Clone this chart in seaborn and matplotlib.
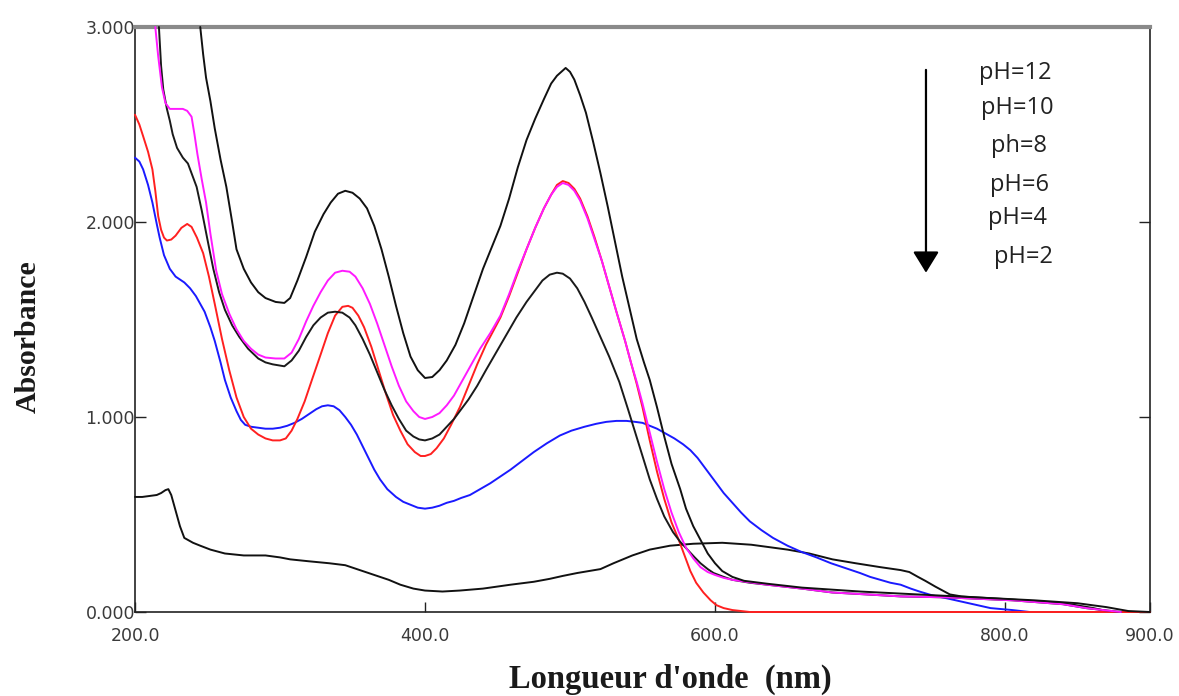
import numpy as np
import pandas as pd
import matplotlib
matplotlib.use("Agg")
import matplotlib.pyplot as plt
import seaborn as sns

# UV-Vis absorption spectra recorded at several pH values (wavelength in nm, absorbance)
wl_ph12 = [245, 247, 249, 252, 255, 259, 263, 267, 270, 275, 280, 285, 290, 297, 303, 307, 312,
           318, 324, 330, 335, 340, 345, 350, 355, 360, 365, 370, 375, 380, 385, 390, 395, 400,
           405, 410, 415, 421, 427, 433, 440, 446, 452, 458, 464, 470, 476, 482, 487, 491, 494,
           497, 500, 503, 507, 511, 516, 521, 526, 531, 536, 541, 546, 551, 555, 560, 565, 570,
           576, 580, 585, 590, 595, 600, 605, 612, 620, 636, 660, 700, 740, 780, 820, 850, 870,
           885, 900]
abs_ph12 = [3.00, 2.86, 2.74, 2.62, 2.48, 2.32, 2.18, 2.00, 1.86, 1.76, 1.69, 1.64, 1.61, 1.59,
            1.585, 1.61, 1.70, 1.82, 1.95, 2.04, 2.10, 2.145, 2.16, 2.15, 2.12, 2.07, 1.98, 1.86,
            1.72, 1.57, 1.43, 1.31, 1.24, 1.20, 1.205, 1.24, 1.29, 1.37, 1.48, 1.61, 1.76, 1.87,
            1.98, 2.12, 2.28, 2.42, 2.53, 2.63, 2.71, 2.75, 2.77, 2.79, 2.77, 2.73, 2.65, 2.56,
            2.41, 2.25, 2.08, 1.90, 1.72, 1.56, 1.40, 1.28, 1.19, 1.05, 0.90, 0.76, 0.63, 0.53,
            0.44, 0.37, 0.30, 0.25, 0.21, 0.18, 0.16, 0.145, 0.125, 0.105, 0.09, 0.075, 0.06,
            0.045, 0.025, 0.005, 0.0]

wl_ph10 = [214, 216, 218.6, 221, 224, 229, 233, 236, 239, 241, 243, 246, 249, 252, 256, 260, 265,
           270, 275, 280, 285, 290, 297, 303, 308, 313, 318, 323, 328, 333, 338, 343, 348, 352,
           357, 362, 367, 372, 377, 382, 387, 392, 396, 400, 405, 410, 415, 420, 426, 432, 438,
           445, 452, 458, 464, 470, 476, 482, 487, 491, 495, 499, 503, 507, 512, 517, 522, 527,
           532, 538, 542, 546, 550, 555, 560, 565, 570, 575, 580, 585, 590, 595, 600, 606, 612,
           624, 636, 660, 681, 705, 728, 760, 805, 840, 856, 870, 880]
abs_ph10 = [3.00, 2.85, 2.69, 2.61, 2.58, 2.58, 2.58, 2.57, 2.54, 2.45, 2.35, 2.22, 2.10, 1.94,
            1.75, 1.63, 1.53, 1.45, 1.39, 1.35, 1.32, 1.305, 1.30, 1.30, 1.33, 1.40, 1.49, 1.57,
            1.64, 1.70, 1.74, 1.75, 1.745, 1.72, 1.66, 1.58, 1.48, 1.37, 1.26, 1.16, 1.08, 1.03,
            1.00, 0.99, 1.00, 1.02, 1.06, 1.11, 1.19, 1.27, 1.35, 1.43, 1.52, 1.63, 1.75, 1.86,
            1.97, 2.07, 2.14, 2.18, 2.20, 2.19, 2.16, 2.11, 2.02, 1.91, 1.80, 1.67, 1.54, 1.39,
            1.28, 1.18, 1.07, 0.92, 0.77, 0.63, 0.51, 0.41, 0.33, 0.275, 0.23, 0.205, 0.19,
            0.175, 0.165, 0.152, 0.14, 0.12, 0.10, 0.09, 0.08, 0.075, 0.06, 0.04, 0.02, 0.008,
            0.0]

wl_ph8 = [216.5, 218, 219.5, 222, 224, 226, 229, 233, 236.5, 239, 242.5, 246, 249.7, 254, 258,
          262, 267, 272, 278, 285, 290, 295, 303, 308, 313, 318, 323, 328, 333, 338, 343, 348,
          352, 357, 362, 367, 372, 377, 382, 387, 392, 396, 400, 405, 410, 415, 420, 425, 430,
          436, 442, 449, 456, 463, 470, 476, 481, 486, 491, 495, 500, 505, 510, 515, 521, 527,
          534, 540, 545, 550, 555, 560, 565, 571, 576, 581, 586, 590, 595, 599, 606, 612, 624,
          636, 660, 681, 705, 728, 760, 805, 840, 856, 870, 880]
abs_ph8 = [3.00, 2.80, 2.68, 2.58, 2.52, 2.45, 2.38, 2.33, 2.30, 2.25, 2.18, 2.06, 1.92, 1.76,
           1.64, 1.55, 1.47, 1.41, 1.35, 1.30, 1.28, 1.27, 1.26, 1.29, 1.34, 1.41, 1.47, 1.51,
           1.535, 1.54, 1.535, 1.51, 1.47, 1.40, 1.32, 1.23, 1.14, 1.06, 0.99, 0.93, 0.90, 0.885,
           0.88, 0.89, 0.91, 0.95, 0.99, 1.04, 1.09, 1.16, 1.24, 1.33, 1.42, 1.51, 1.59, 1.65,
           1.70, 1.73, 1.74, 1.735, 1.71, 1.66, 1.59, 1.51, 1.41, 1.31, 1.18, 1.04, 0.92, 0.80,
           0.68, 0.58, 0.49, 0.41, 0.36, 0.32, 0.28, 0.25, 0.22, 0.20, 0.18, 0.165, 0.15, 0.14,
           0.12, 0.10, 0.09, 0.08, 0.075, 0.06, 0.04, 0.02, 0.008, 0.0]

wl_ph6 = [200, 203, 205.6, 209, 212, 214, 216, 218, 220, 222, 225, 228, 232, 236, 239, 242.7, 247,
          251, 255, 260, 265, 270, 275, 280, 285, 290, 295, 300, 304, 308, 312, 317, 322, 328,
          333, 338, 343, 347, 350, 354, 358, 363, 368, 373, 378, 383, 388, 393, 397, 400, 404,
          408, 413, 418, 424, 430, 436, 442, 447, 452, 458, 464, 470, 476, 482, 487, 491, 495,
          499, 503, 507, 512, 517, 522, 527, 532, 538, 542, 546, 550, 555, 560, 565, 570, 575,
          579, 583, 587, 592, 597, 601, 606, 612, 624, 900]
abs_ph6 = [2.55, 2.50, 2.44, 2.36, 2.27, 2.16, 2.03, 1.96, 1.92, 1.905, 1.91, 1.93, 1.97, 1.99,
           1.975, 1.92, 1.84, 1.72, 1.58, 1.40, 1.24, 1.10, 1.00, 0.94, 0.91, 0.89, 0.88, 0.88,
           0.89, 0.93, 0.99, 1.08, 1.19, 1.32, 1.43, 1.52, 1.565, 1.57, 1.56, 1.52, 1.46, 1.36,
           1.24, 1.12, 1.01, 0.93, 0.86, 0.82, 0.80, 0.80, 0.81, 0.84, 0.89, 0.96, 1.05, 1.16,
           1.27, 1.37, 1.44, 1.51, 1.62, 1.74, 1.86, 1.97, 2.07, 2.14, 2.19, 2.21, 2.20, 2.17,
           2.12, 2.03, 1.92, 1.80, 1.67, 1.54, 1.39, 1.28, 1.17, 1.05, 0.88, 0.72, 0.58, 0.46,
           0.37, 0.29, 0.21, 0.15, 0.10, 0.06, 0.035, 0.02, 0.01, 0.0, 0.0]

wl_ph4 = [200, 203, 205.6, 209, 212, 215, 217, 220, 224, 228, 234, 238, 242, 245, 248, 252, 255,
          259, 262, 266, 270, 273, 276, 280, 285, 290, 295, 300, 305, 310, 315, 320, 325, 329,
          333, 337, 341, 345, 349, 353, 357, 361, 365, 369, 374, 380, 385, 390, 395, 400, 405,
          410, 415, 420, 425, 431, 438, 445, 452, 459, 467, 475, 484, 493, 501, 510, 518, 525,
          532, 539, 545, 550, 555, 560, 566, 572, 578, 583, 588, 592, 597, 601, 606, 612, 618,
          624, 632, 640, 650, 659, 670, 680, 690, 700, 707, 714, 721, 728, 735, 741, 750, 760,
          775, 790, 805, 817]
abs_ph4 = [2.33, 2.31, 2.27, 2.19, 2.10, 1.99, 1.92, 1.83, 1.76, 1.72, 1.69, 1.66, 1.62, 1.58,
           1.54, 1.46, 1.39, 1.28, 1.19, 1.10, 1.03, 0.985, 0.96, 0.95, 0.945, 0.94, 0.94, 0.945,
           0.955, 0.97, 0.99, 1.015, 1.04, 1.055, 1.06, 1.055, 1.035, 1.00, 0.96, 0.91, 0.85,
           0.79, 0.73, 0.68, 0.63, 0.59, 0.565, 0.55, 0.535, 0.53, 0.535, 0.545, 0.56, 0.57,
           0.585, 0.60, 0.63, 0.66, 0.695, 0.73, 0.775, 0.82, 0.865, 0.905, 0.93, 0.95, 0.965,
           0.975, 0.98, 0.98, 0.975, 0.97, 0.955, 0.94, 0.915, 0.89, 0.86, 0.83, 0.79, 0.75,
           0.70, 0.66, 0.61, 0.56, 0.51, 0.465, 0.42, 0.38, 0.34, 0.31, 0.28, 0.25, 0.225, 0.20,
           0.18, 0.165, 0.15, 0.14, 0.12, 0.105, 0.085, 0.07, 0.045, 0.02, 0.01, 0.0]

wl_ph2 = [200, 205, 210, 215, 218, 221, 223, 225, 228, 231, 234, 240, 245, 252, 262, 275, 290,
          300, 307, 320, 334, 345, 355, 365, 375, 383, 392, 400, 412, 424, 440, 459, 475, 486,
          495, 505, 513, 521, 530, 543, 555, 569, 585, 605, 625, 650, 665, 681, 697, 714, 728,
          734, 740, 745, 752, 762, 770, 780, 803, 830, 845, 861, 868, 875, 900]
abs_ph2 = [0.59, 0.59, 0.595, 0.60, 0.61, 0.625, 0.63, 0.60, 0.52, 0.44, 0.38, 0.355, 0.34, 0.32,
           0.30, 0.29, 0.29, 0.28, 0.27, 0.26, 0.25, 0.24, 0.215, 0.19, 0.165, 0.14, 0.12, 0.11,
           0.105, 0.11, 0.12, 0.14, 0.155, 0.17, 0.185, 0.20, 0.21, 0.22, 0.25, 0.29, 0.32, 0.34,
           0.35, 0.355, 0.345, 0.32, 0.30, 0.27, 0.25, 0.23, 0.215, 0.205, 0.18, 0.16, 0.13,
           0.09, 0.08, 0.075, 0.065, 0.05, 0.04, 0.02, 0.008, 0.0, 0.0]

series_names = ["pH=2", "pH=4", "pH=6", "pH=8", "pH=10", "pH=12"]
legend_labels = ["pH=12", "pH=10", "ph=8", "pH=6", "pH=4", "pH=2"]
x_ticks = [200, 400, 600, 800, 900]
y_ticks = [0, 1, 2, 3]

frames = []
for name, wl, ab in [("pH=2", wl_ph2, abs_ph2), ("pH=4", wl_ph4, abs_ph4),
                     ("pH=6", wl_ph6, abs_ph6), ("pH=8", wl_ph8, abs_ph8),
                     ("pH=10", wl_ph10, abs_ph10), ("pH=12", wl_ph12, abs_ph12)]:
    frames.append(pd.DataFrame({"wl": wl, "A": ab, "pH": name}))
df = pd.concat(frames, ignore_index=True)

palette = {"pH=2": "#111111", "pH=4": "#1a1aff", "pH=6": "#ff2020",
           "pH=8": "#1a1a1a", "pH=10": "#ff1aff", "pH=12": "#111111"}

sns.set_style("white")

fig = plt.figure(figsize=(11.79, 6.96), dpi=100)
ax = fig.add_axes([135 / 1179, 1 - 612 / 696, 1015 / 1179, 585 / 696])

sns.lineplot(data=df, x="wl", y="A", hue="pH", hue_order=series_names, palette=palette,
             estimator=None, sort=False, linewidth=1.4, legend=False, ax=ax)
for line in ax.get_lines():
    line.set_zorder(3)
    line.set_clip_on(False)

ax.set_xlim(200, 900)
ax.set_ylim(0, 3)
ax.set_xticks(x_ticks)
ax.set_xticklabels([f"{v:.1f}" for v in x_ticks])
ax.set_yticks(y_ticks)
ax.set_yticklabels([f"{v:.3f}" for v in y_ticks])

for lbl in ax.get_xticklabels() + ax.get_yticklabels():
    lbl.set_fontfamily("DejaVu Sans")
    lbl.set_fontsize(12.5)
    lbl.set_color("#3a3a3a")

ax.tick_params(axis="x", direction="in", length=7, width=1, color="#222222", pad=11,
               bottom=True, top=False)
ax.tick_params(axis="y", direction="in", length=8, width=1, color="#222222", pad=0,
               left=True, right=True)

for side in ["left", "bottom", "right"]:
    ax.spines[side].set_color("#222222")
    ax.spines[side].set_linewidth(1.2)
ax.spines["top"].set_color("#8a8a8a")
ax.spines["top"].set_linewidth(3)

label_font = dict(family="Liberation Serif", weight="bold", color="#1a1a1a")
ax.set_xlabel("Longueur d'onde  (nm)", **label_font, size=23.5, va="center")
ax.xaxis.set_label_coords(0.527, -0.116)
ax.set_ylabel("Absorbance", **label_font, size=21.5, va="center", ha="center")
ax.yaxis.set_label_coords(-0.105, 0.47)

# arrow showing the direction of decreasing pH
ax.annotate("", xy=(745.5, 1.74), xytext=(745.5, 2.78),
            arrowprops=dict(arrowstyle="-|>,head_width=0.4,head_length=0.65",
                            mutation_scale=20, color="black", lw=1.6, shrinkA=0, shrinkB=0))

label_pos = [(807, 2.764), (808.3, 2.585), (809.7, 2.39), (809.7, 2.19), (808.3, 2.02),
             (813, 1.82)]
for txt, (x, y) in zip(legend_labels, label_pos):
    ax.text(x, y, txt, ha="center", va="center", fontsize=17, family="Open Sans",
            color="#222222")

fig.savefig("out.png", dpi=100)
